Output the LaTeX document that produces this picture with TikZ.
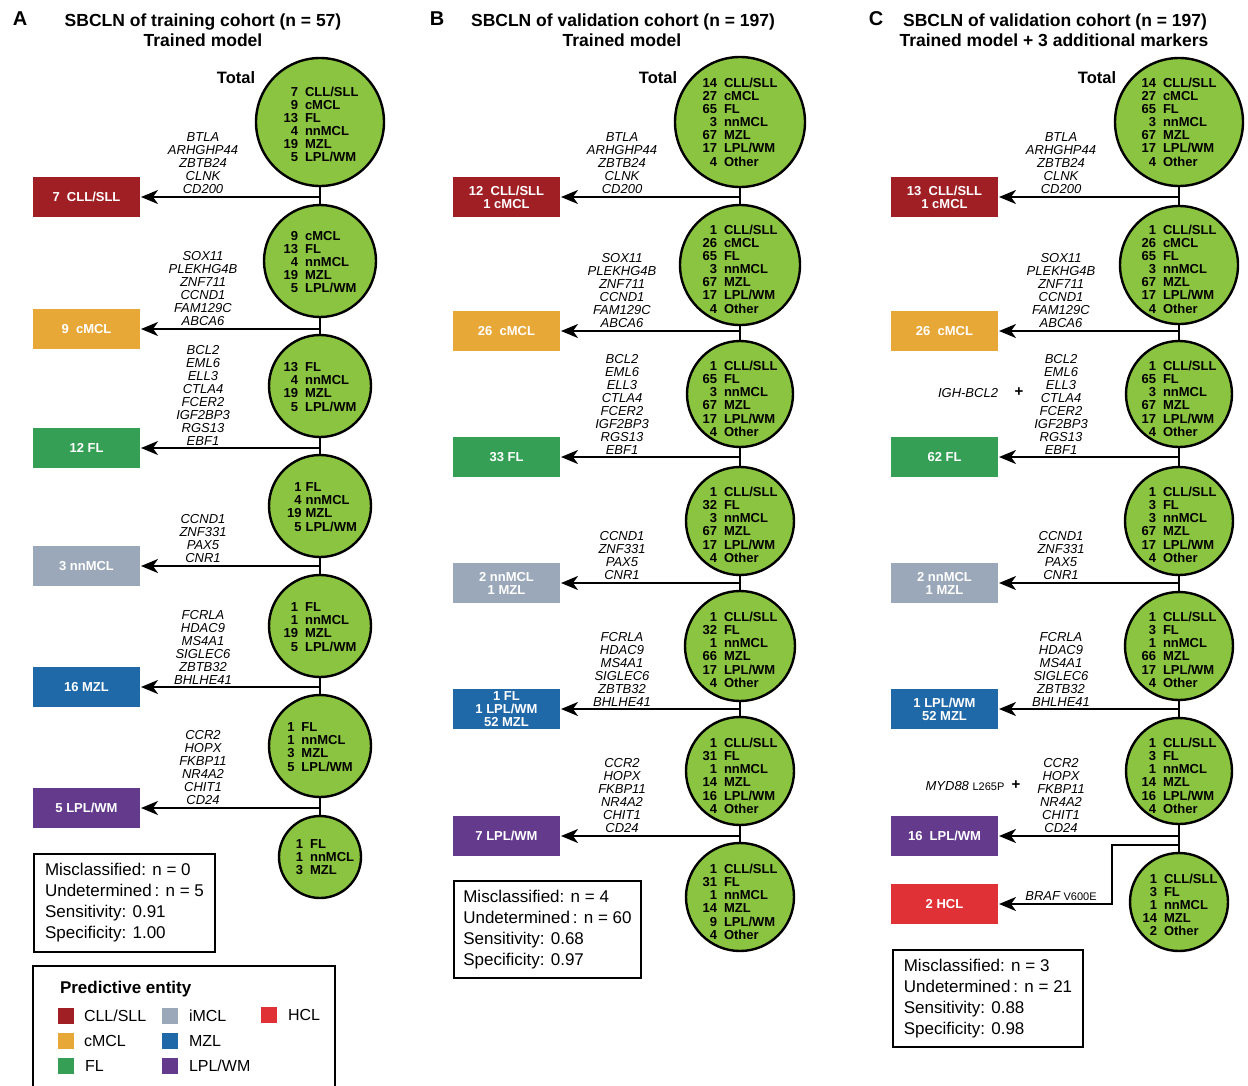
\documentclass[tikz,border=0pt]{standalone}
\usepackage{fontspec}
\setmainfont{Liberation Sans}
\usepackage{tikz}
\usetikzlibrary{arrows.meta, positioning}

\definecolor{leaf}{HTML}{8BC441}
\definecolor{cllred}{HTML}{A01F24}
\definecolor{cmclorange}{HTML}{E8A838}
\definecolor{flgreen}{HTML}{35A055}
\definecolor{mclgrey}{HTML}{9BA8B9}
\definecolor{mzlblue}{HTML}{1F69A8}
\definecolor{lplpurple}{HTML}{633A8C}
\definecolor{hclred}{HTML}{E03236}

\newcommand{\entlist}[2][7pt]{\begin{tabular}{@{}r@{\hspace{#1}}l@{}}#2\end{tabular}}

\begin{document}
\begin{tikzpicture}[x=1pt, y=-1pt, line width=2pt,
        >={Stealth[length=17pt,width=14pt,inset=5pt]},
        main node/.style={circle, draw, line width=2.4pt, fill=leaf, inner sep=0pt},
        tally/.style={inner sep=0pt, font=\fontsize{13}{13}\selectfont\bfseries},
        class box/.style={rectangle, minimum width=107pt, minimum height=40pt,
            inner sep=0pt, align=center, text=white,
            font=\fontsize{13}{13}\selectfont\bfseries},
        genes/.style={anchor=south, align=center, inner sep=1pt,
            font=\fontsize{13}{13}\selectfont\itshape},
        stat box/.style={draw, anchor=north west, align=left, inner sep=0pt,
            font=\fontsize{17}{21}\selectfont},
        panel letter/.style={anchor=base, font=\fontsize{20}{24}\selectfont\bfseries},
        title text/.style={anchor=base, font=\fontsize{17.5}{20}\selectfont\bfseries},
        total label/.style={anchor=base, font=\fontsize{16.5}{20}\selectfont\bfseries},
        plus sign/.style={inner sep=0pt, font=\fontsize{15}{15}\selectfont\bfseries},
        swatch/.style={rectangle, minimum size=16pt, inner sep=0pt},
        legend text/.style={inner sep=0pt, font=\fontsize{16}{18}\selectfont}]

    \useasboundingbox (0,0) rectangle (1248,1085);

    % Panel A
    \node[panel letter] (la) at (20,25) {A};
    \node[title text] (ha1) at (203,26) {SBCLN of training cohort (n = 57)};
    \node[title text] (ha2) at (203,46.5) {Trained model};
    \node[total label] (sa) at (236,83) {Total};

    % Nodes
    \node[main node, minimum size=128pt] (A1) at (320,122) {};
    \node[main node, minimum size=112pt] (A2) at (320,261) {};
    \node[main node, minimum size=102pt] (A3) at (320,386) {};
    \node[main node, minimum size=102pt] (A4) at (320,506) {};
    \node[main node, minimum size=102pt] (A5) at (320,626) {};
    \node[main node, minimum size=102pt] (A6) at (320,746) {};
    \node[main node, minimum size=82pt] (A7) at (320,857) {};

    \node[tally] (A1n) at (321,126) {\entlist{7&CLL/SLL\\9&cMCL\\13&FL\\4&nnMCL\\19&MZL\\5&LPL/WM}};
    \node[tally] (A2n) at (320,264) {\entlist{9&cMCL\\13&FL\\4&nnMCL\\19&MZL\\5&LPL/WM}};
    \node[tally] (A3n) at (320,389) {\entlist{13&FL\\4&nnMCL\\19&MZL\\5&LPL/WM}};
    \node[tally] (A4n) at (322,509) {\entlist[4pt]{1&FL\\4&nnMCL\\19&MZL\\5&LPL/WM}};
    \node[tally] (A5n) at (320,629) {\entlist{1&FL\\1&nnMCL\\19&MZL\\5&LPL/WM}};
    \node[tally] (A6n) at (320,749) {\entlist{1&FL\\1&nnMCL\\3&MZL\\5&LPL/WM}};
    \node[tally] (A7n) at (325,859) {\entlist{1&FL\\1&nnMCL\\3&MZL}};

    \node[class box, fill=cllred] (pA1) at (86.5,197) {7~~CLL/SLL};
    \node[class box, fill=cmclorange] (pA2) at (86.5,329) {9~~cMCL};
    \node[class box, fill=flgreen] (pA3) at (86.5,448) {12 FL};
    \node[class box, fill=mclgrey] (pA4) at (86.5,566) {3 nnMCL};
    \node[class box, fill=mzlblue] (pA5) at (86.5,687) {16 MZL};
    \node[class box, fill=lplpurple] (pA6) at (86.5,808) {5 LPL/WM};

    \node[genes] (gA1) at (203,196) {BTLA\\ARHGHP44\\ZBTB24\\CLNK\\CD200};
    \node[genes] (gA2) at (203,328) {SOX11\\PLEKHG4B\\ZNF711\\CCND1\\FAM129C\\ABCA6};
    \node[genes] (gA3) at (203,447) {BCL2\\EML6\\ELL3\\CTLA4\\FCER2\\IGF2BP3\\RGS13\\EBF1};
    \node[genes] (gA4) at (203,565) {CCND1\\ZNF331\\PAX5\\CNR1};
    \node[genes] (gA5) at (203,686) {FCRLA\\HDAC9\\MS4A1\\SIGLEC6\\ZBTB32\\BHLHE41};
    \node[genes] (gA6) at (203,807) {CCR2\\HOPX\\FKBP11\\NR4A2\\CHIT1\\CD24};

    % Edges
    \path (A1) edge (A2) (A2) edge (A3) (A3) edge (A4)
          (A4) edge (A5) (A5) edge (A6) (A6) edge (A7);
    \path[->] (A1 |- pA1) edge (pA1) (A2 |- pA2) edge (pA2) (A3 |- pA3) edge (pA3)
              (A4 |- pA4) edge (pA4) (A5 |- pA5) edge (pA5) (A6 |- pA6) edge (pA6);

    \node[stat box, minimum width=181pt, minimum height=98pt] (qA) at (33,853)
        {Misclassified: n = 0\\Undetermined\,: n = 5\\Sensitivity: 0.91\\Specificity: 1.00};

    % Legend
    \draw (33,1100) -- (33,966) -- (335,966) -- (335,1100);
    \node[anchor=base west, inner sep=0pt, font=\fontsize{17}{20}\selectfont\bfseries] (lg) at (59,993) {Predictive entity};
    \node[swatch, fill=cllred] (k1) at (66,1016) {};
    \node[legend text, right=8pt of k1] (k1t) {CLL/SLL};
    \node[swatch, fill=cmclorange] (k2) at (66,1041) {};
    \node[legend text, right=8pt of k2] (k2t) {cMCL};
    \node[swatch, fill=flgreen] (k3) at (66,1066) {};
    \node[legend text, right=9pt of k3] (k3t) {FL};
    \node[swatch, fill=mclgrey] (k4) at (170,1016) {};
    \node[legend text, right=9pt of k4] (k4t) {iMCL};
    \node[swatch, fill=mzlblue] (k5) at (170,1041) {};
    \node[legend text, right=9pt of k5] (k5t) {MZL};
    \node[swatch, fill=lplpurple] (k6) at (170,1066) {};
    \node[legend text, right=9pt of k6] (k6t) {LPL/WM};
    \node[swatch, fill=hclred] (k7) at (269,1015) {};
    \node[legend text, right=9pt of k7] (k7t) {HCL};

    % Panel B
    \node[panel letter] (lb) at (437,25) {B};
    \node[title text] (hb1) at (623,26) {SBCLN of validation cohort (n = 197)};
    \node[title text] (hb2) at (622,46.5) {Trained model};
    \node[total label] (sb) at (658,83) {Total};

    % Nodes
    \node[main node, minimum size=130pt] (B1) at (740,122) {};
    \node[main node, minimum size=120pt] (B2) at (740,265) {};
    \node[main node, minimum size=106pt] (B3) at (740,394) {};
    \node[main node, minimum size=108pt] (B4) at (740,521) {};
    \node[main node, minimum size=110pt] (B5) at (740,646) {};
    \node[main node, minimum size=108pt] (B6) at (740,771) {};
    \node[main node, minimum size=108pt] (B7) at (740,897) {};

    \node[tally] (B1n) at (740,124) {\entlist{14&CLL/SLL\\27&cMCL\\65&FL\\3&nnMCL\\67&MZL\\17&LPL/WM\\4&Other}};
    \node[tally] (B2n) at (740,271) {\entlist{1&CLL/SLL\\26&cMCL\\65&FL\\3&nnMCL\\67&MZL\\17&LPL/WM\\4&Other}};
    \node[tally] (B3n) at (740,401) {\entlist{1&CLL/SLL\\65&FL\\3&nnMCL\\67&MZL\\17&LPL/WM\\4&Other}};
    \node[tally] (B4n) at (740,527) {\entlist{1&CLL/SLL\\32&FL\\3&nnMCL\\67&MZL\\17&LPL/WM\\4&Other}};
    \node[tally] (B5n) at (740,652) {\entlist{1&CLL/SLL\\32&FL\\1&nnMCL\\66&MZL\\17&LPL/WM\\4&Other}};
    \node[tally] (B6n) at (740,778) {\entlist{1&CLL/SLL\\31&FL\\1&nnMCL\\14&MZL\\16&LPL/WM\\4&Other}};
    \node[tally] (B7n) at (740,904) {\entlist{1&CLL/SLL\\31&FL\\1&nnMCL\\14&MZL\\9&LPL/WM\\4&Other}};

    \node[class box, fill=cllred] (pB1) at (506.5,197) {12~~CLL/SLL\\1 cMCL};
    \node[class box, fill=cmclorange] (pB2) at (506.5,331) {26~~cMCL};
    \node[class box, fill=flgreen] (pB3) at (506.5,457) {33 FL};
    \node[class box, fill=mclgrey] (pB4) at (506.5,583) {2 nnMCL\\1 MZL};
    \node[class box, fill=mzlblue] (pB5) at (506.5,709) {1 FL\\1 LPL/WM\\52 MZL};
    \node[class box, fill=lplpurple] (pB6) at (506.5,836) {7 LPL/WM};

    \node[genes] (gB1) at (622,196) {BTLA\\ARHGHP44\\ZBTB24\\CLNK\\CD200};
    \node[genes] (gB2) at (622,330) {SOX11\\PLEKHG4B\\ZNF711\\CCND1\\FAM129C\\ABCA6};
    \node[genes] (gB3) at (622,456) {BCL2\\EML6\\ELL3\\CTLA4\\FCER2\\IGF2BP3\\RGS13\\EBF1};
    \node[genes] (gB4) at (622,582) {CCND1\\ZNF331\\PAX5\\CNR1};
    \node[genes] (gB5) at (622,708) {FCRLA\\HDAC9\\MS4A1\\SIGLEC6\\ZBTB32\\BHLHE41};
    \node[genes] (gB6) at (622,835) {CCR2\\HOPX\\FKBP11\\NR4A2\\CHIT1\\CD24};

    % Edges
    \path (B1) edge (B2) (B2) edge (B3) (B3) edge (B4)
          (B4) edge (B5) (B5) edge (B6) (B6) edge (B7);
    \path[->] (B1 |- pB1) edge (pB1) (B2 |- pB2) edge (pB2) (B3 |- pB3) edge (pB3)
              (B4 |- pB4) edge (pB4) (B5 |- pB5) edge (pB5) (B6 |- pB6) edge (pB6);

    \node[stat box, minimum width=187pt, minimum height=97pt] (qB) at (453,880)
        {Misclassified: n = 4\\Undetermined\,: n = 60\\Sensitivity: 0.68\\Specificity: 0.97};

    % Panel C
    \node[panel letter] (lc) at (876,25) {C};
    \node[title text] (hc1) at (1055,26) {SBCLN of validation cohort (n = 197)};
    \node[title text] (hc2) at (1054,46.5) {Trained model + 3 additional markers};
    \node[total label] (sc) at (1097,83) {Total};

    % Nodes
    \node[main node, minimum size=128pt] (C1) at (1179,122) {};
    \node[main node, minimum size=118pt] (C2) at (1179,265) {};
    \node[main node, minimum size=106pt] (C3) at (1179,394) {};
    \node[main node, minimum size=108pt] (C4) at (1179,521) {};
    \node[main node, minimum size=108pt] (C5) at (1179,646) {};
    \node[main node, minimum size=106pt] (C6) at (1179,771) {};
    \node[main node, minimum size=98pt] (C7) at (1179,902) {};

    \node[tally] (C1n) at (1179,124) {\entlist{14&CLL/SLL\\27&cMCL\\65&FL\\3&nnMCL\\67&MZL\\17&LPL/WM\\4&Other}};
    \node[tally] (C2n) at (1179,271) {\entlist{1&CLL/SLL\\26&cMCL\\65&FL\\3&nnMCL\\67&MZL\\17&LPL/WM\\4&Other}};
    \node[tally] (C3n) at (1179,401) {\entlist{1&CLL/SLL\\65&FL\\3&nnMCL\\67&MZL\\17&LPL/WM\\4&Other}};
    \node[tally] (C4n) at (1179,527) {\entlist{1&CLL/SLL\\3&FL\\3&nnMCL\\67&MZL\\17&LPL/WM\\4&Other}};
    \node[tally] (C5n) at (1179,652) {\entlist{1&CLL/SLL\\3&FL\\1&nnMCL\\66&MZL\\17&LPL/WM\\4&Other}};
    \node[tally] (C6n) at (1179,778) {\entlist{1&CLL/SLL\\3&FL\\1&nnMCL\\14&MZL\\16&LPL/WM\\4&Other}};
    \node[tally] (C7n) at (1180,907) {\entlist{1&CLL/SLL\\3&FL\\1&nnMCL\\14&MZL\\2&Other}};

    \node[class box, fill=cllred] (pC1) at (944.5,197) {13~~CLL/SLL\\1 cMCL};
    \node[class box, fill=cmclorange] (pC2) at (944.5,331) {26~~cMCL};
    \node[class box, fill=flgreen] (pC3) at (944.5,457) {62 FL};
    \node[class box, fill=mclgrey] (pC4) at (944.5,583) {2 nnMCL\\1 MZL};
    \node[class box, fill=mzlblue] (pC5) at (944.5,709) {1 LPL/WM\\52 MZL};
    \node[class box, fill=lplpurple] (pC6) at (944.5,836) {16~~LPL/WM};
    \node[class box, fill=hclred] (pC7) at (944.5,904) {2 HCL};

    \node[genes] (gC1) at (1061,196) {BTLA\\ARHGHP44\\ZBTB24\\CLNK\\CD200};
    \node[genes] (gC2) at (1061,330) {SOX11\\PLEKHG4B\\ZNF711\\CCND1\\FAM129C\\ABCA6};
    \node[genes] (gC3) at (1061,456) {BCL2\\EML6\\ELL3\\CTLA4\\FCER2\\IGF2BP3\\RGS13\\EBF1};
    \node[genes] (gC4) at (1061,582) {CCND1\\ZNF331\\PAX5\\CNR1};
    \node[genes] (gC5) at (1061,708) {FCRLA\\HDAC9\\MS4A1\\SIGLEC6\\ZBTB32\\BHLHE41};
    \node[genes] (gC6) at (1061,835) {CCR2\\HOPX\\FKBP11\\NR4A2\\CHIT1\\CD24};
    \node[genes] (gC7) at (1061,903) {BRAF {\upshape\fontsize{11}{13}\selectfont V600E}};

    \node[font=\fontsize{13}{13}\selectfont\itshape, inner sep=0pt] (xC3) at (968,393) {IGH-BCL2};
    \node[plus sign] (plC3) at (1019,392) {+};
    \node[font=\fontsize{13}{13}\selectfont\itshape, inner sep=0pt] (xC6) at (965,786) {MYD88 {\upshape\fontsize{11}{13}\selectfont L265P}};
    \node[plus sign] (plC6) at (1016,785) {+};

    % Edges
    \path (C1) edge (C2) (C2) edge (C3) (C3) edge (C4)
          (C4) edge (C5) (C5) edge (C6) (C6) edge (C7);
    \path[->] (C1 |- pC1) edge (pC1) (C2 |- pC2) edge (pC2) (C3 |- pC3) edge (pC3)
              (C4 |- pC4) edge (pC4) (C5 |- pC5) edge (pC5) (C6 |- pC6) edge (pC6);
    \coordinate (kC) at (1112,845);
    \draw[->] (C6 |- kC) -- (kC) |- (pC7.east);

    \node[stat box, minimum width=190pt, minimum height=97pt] (qC) at (892,949)
        {Misclassified: n = 3\\Undetermined\,: n = 21\\Sensitivity: 0.88\\Specificity: 0.98};

\end{tikzpicture}
\end{document}
